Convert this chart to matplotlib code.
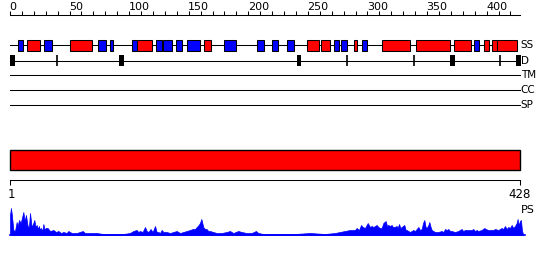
import matplotlib
matplotlib.use('Agg')
import matplotlib.pyplot as plt
from matplotlib.patches import Rectangle

seq_len = 428

# secondary structure elements: start, end, type (H = helix, E = strand)
ss_start = [7.0, 14.0, 28.8, 50.6, 74.1, 84.2, 102.0, 106.3, 122.8, 128.4,
            139.6, 148.8, 163.1, 179.9, 207.5, 220.0, 232.2, 249.5, 261.3, 272.2,
            278.1, 289.0, 295.7, 312.5, 340.9, 372.9, 389.6, 398.0, 404.5, 409.0]
ss_end = [11.2, 25.4, 35.0, 69.1, 80.8, 86.7, 106.3, 119.4, 127.3, 136.2,
          144.6, 159.7, 168.9, 189.9, 212.9, 224.6, 238.6, 259.6, 268.3, 275.8,
          282.5, 291.5, 299.8, 335.9, 369.5, 387.1, 393.3, 402.2, 408.7, 425.7]
ss_type = ['E', 'H', 'E', 'H', 'E', 'E', 'E', 'H', 'E', 'E',
           'E', 'E', 'H', 'E', 'E', 'E', 'E', 'H', 'H', 'E',
           'E', 'H', 'E', 'H', 'H', 'H', 'E', 'H', 'H', 'H']

# domain boundary markers
dom_thick_start = [0.0, 91.5, 240.9, 369.0, 425.0]
dom_thick_end = [4.0, 95.4, 244.0, 373.2, 428.6]
dom_thin = [39.4, 282.8, 339.0, 411.2]

# PS profile (residue, height)
ps_pos = [0.0, 0.8, 1.6, 2.8, 4.2, 5.6, 6.4, 7.6, 9.0, 9.8, 11.2, 12.3, 13.4, 14.8, 15.9,
          16.8, 18.2, 19.6, 20.4, 21.5, 22.4, 23.5, 24.3, 25.2, 26.0, 27.1, 28.0, 29.1,
          29.9, 31.6, 33.6, 36.4, 38.6, 40.6, 42.8, 44.8, 47.5, 49.0, 51.8, 55.9, 58.7,
          61.0, 62.9, 67.1, 72.7, 78.3, 83.9, 89.5, 95.1, 100.7, 103.5, 106.3, 107.7,
          109.1, 111.3, 113.3, 114.7, 116.1, 118.0, 119.7, 121.7, 123.1, 124.5, 125.9,
          127.3, 128.7, 131.5, 134.3, 137.1, 139.9, 142.7, 145.5, 148.3, 151.1, 153.3,
          155.3, 156.7, 158.3, 159.4, 160.6, 161.4, 162.2, 163.6, 165.0, 166.4, 167.8,
          170.6, 173.4, 177.6, 181.8, 184.6, 187.4, 191.6, 194.4, 198.6, 202.8, 206.4,
          208.4, 212.6, 218.2, 222.4, 228.0, 239.2, 251.8, 264.3, 272.7, 281.1, 285.3,
          289.5, 290.9, 292.9, 294.6, 296.0, 297.9, 300.2, 302.1, 303.5, 304.9, 306.3,
          307.7, 309.1, 310.5, 311.9, 313.3, 315.3, 316.4, 317.5, 318.9, 320.3, 321.4,
          322.5, 324.5, 325.3, 326.5, 327.6, 328.7, 329.8, 330.9, 332.1, 332.9, 334.3,
          335.7, 337.1, 338.5, 339.9, 341.3, 342.7, 344.1, 345.5, 346.6, 347.7, 348.8,
          349.7, 351.1, 351.9, 353.0, 353.9, 355.3, 356.7, 359.5, 362.2, 363.7, 365.1,
          366.5, 367.9, 369.3, 370.6, 373.4, 376.2, 379.0, 380.4, 381.8, 384.6, 387.4,
          388.8, 390.2, 391.6, 393.0, 395.8, 398.1, 399.2, 401.4, 402.8, 405.6, 407.0,
          409.8, 412.6, 414.0, 415.4, 416.8, 418.2, 419.6, 421.0, 422.4, 423.8, 425.2,
          426.0, 426.9, 428.0, 428.8, 429.6, 430.7]
ps_val = [20, 27, 20, 5, 4, 13, 9, 15, 12, 16, 23, 14, 20, 9, 8,
          22, 8, 12, 15, 8, 10, 6, 9, 5, 7, 4, 11, 5,
          7, 7, 4, 5, 3, 4, 2, 3, 2, 4, 2, 2, 3,
          4, 2, 2, 2, 1, 1, 1, 1, 2, 4, 5, 3,
          4, 3, 8, 4, 3, 6, 3, 9, 3, 3, 2,
          5, 3, 3, 2, 3, 4, 2, 3, 4, 5, 6,
          6, 8, 10, 12, 16, 12, 8, 6, 6, 4, 4,
          3, 2, 2, 3, 4, 2, 4, 3, 2, 2, 4,
          2, 1, 1, 1, 1, 1, 2, 1, 2, 4, 5,
          5, 7, 5, 10, 8, 7, 12, 8, 9, 8, 9,
          10, 8, 7, 7, 12, 14, 9, 10, 9, 10, 8,
          8, 9, 7, 11, 7, 8, 9, 10, 5, 5, 4,
          3, 4, 5, 4, 6, 8, 5, 6, 12, 15, 8,
          7, 10, 13, 8, 5, 4, 3, 3, 4, 3, 6,
          5, 6, 4, 4, 3, 4, 6, 4, 5, 5, 5,
          6, 4, 5, 4, 5, 7, 6, 5, 5, 5, 6,
          5, 7, 6, 9, 6, 8, 7, 10, 7, 9, 12,
          16, 10, 14, 15, 5, 0]

ruler_ticks = list(range(0, 421, 10))
ruler_labels = list(range(0, 401, 50))
track_names = ['SS', 'D', 'TM', 'CC', 'SP']
track_y = [45, 61, 75, 90, 105]

RED = '#ff0000'
BLUE = '#0000ff'
px = 510 / seq_len  # pixels per residue

fig = plt.figure(figsize=(5.5, 2.6), dpi=100)
ax = fig.add_axes([0, 0, 1, 1])
ax.set_xlim(-10 / px, 540 / px)
ax.set_ylim(260, 0)
ax.axis('off')
lw = 0.75

# top ruler
ax.plot([0, seq_len], [15, 15], color='black', lw=lw)
ax.vlines(ruler_ticks, 11, 15, color='black', lw=lw)
for v in ruler_labels:
    ax.text(v - 0.5, 12, str(v), ha='left', va='bottom', fontsize=8)

# track lines and labels
ax.plot([0, 425.7], [track_y[0], track_y[0]], color='black', lw=lw)
for y in track_y[1:]:
    ax.plot([0, seq_len], [y, y], color='black', lw=lw)
for name, y in zip(track_names, track_y):
    ax.text(seq_len + 0.5, y, name, ha='left', va='center', fontsize=7.5)

# secondary structure boxes
for s, e, t in zip(ss_start, ss_end, ss_type):
    ax.add_patch(Rectangle((s, 40), e - s, 10.5, facecolor=RED if t == 'H' else BLUE,
                           edgecolor='black', lw=lw, zorder=3))

# domain markers
for s, e in zip(dom_thick_start, dom_thick_end):
    ax.add_patch(Rectangle((s, 54.5), e - s, 11.5, facecolor='black', edgecolor='none', zorder=3))
ax.vlines(dom_thin, 54.5, 66, color='black', lw=1.2, zorder=3)

# full length bar
ax.add_patch(Rectangle((0, 150), seq_len, 20, facecolor=RED, edgecolor='black', lw=1.0))

# lower ruler
ax.plot([0, seq_len], [180, 180], color='black', lw=lw)
ax.vlines([0, seq_len], 180, 185, color='black', lw=lw)
ax.text(1, 188, '1', ha='center', va='top', fontsize=8.5)
ax.text(seq_len, 188, str(seq_len), ha='center', va='top', fontsize=8.5)
ax.text(seq_len + 1, 205, 'PS', ha='left', va='top', fontsize=8)

# PS profile
base = 235
ax.fill_between(ps_pos, base, [base - v for v in ps_val], color=BLUE, lw=0.5)
ax.plot([0, 432], [base - 0.5, base - 0.5], color=BLUE, lw=1.2)

fig.savefig('out.png', dpi=100)
